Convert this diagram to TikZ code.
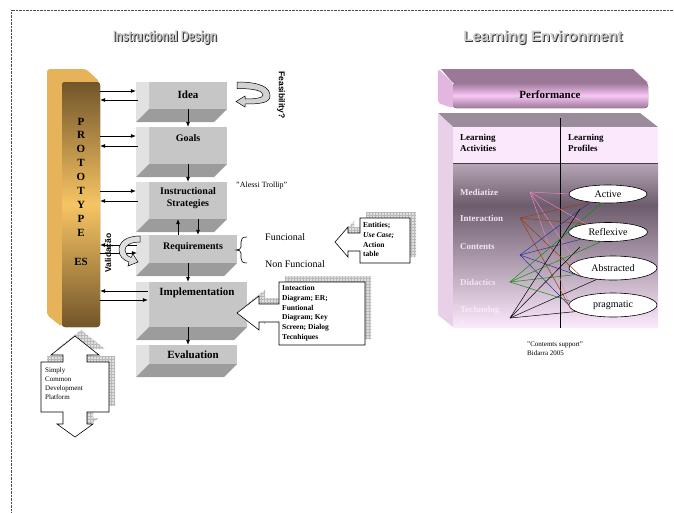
\documentclass[tikz,border=0pt]{standalone}
\usepackage{fontspec}
\setmainfont{Liberation Serif}
\newfontfamily\titlefont{Liberation Sans}
\usetikzlibrary{arrows.meta,shapes.geometric,fit,patterns}
\definecolor{boxlight}{HTML}{C6C6C6}
\definecolor{boxleft}{HTML}{E2E2E2}
\definecolor{boxdark}{HTML}{9C9C9C}
\definecolor{goldlight}{HTML}{E6B25A}
\definecolor{golddark}{HTML}{72552A}
\definecolor{goldmid}{HTML}{F6C463}
\definecolor{mauve}{HTML}{9C7898}
\definecolor{pinkl}{HTML}{F8C6F6}
\definecolor{pinkleft}{HTML}{E2B6E0}
\definecolor{tabtop}{HTML}{9A8C9A}
\definecolor{tableft}{HTML}{E8D0E8}
\definecolor{tabhead}{HTML}{FCE8FC}
\definecolor{tabdark}{HTML}{6C5C6C}
\definecolor{tabmid}{HTML}{B6A6B6}
\definecolor{actcol}{HTML}{F2E4F2}
\definecolor{lpink}{HTML}{F080C0}
\definecolor{lbrown}{HTML}{A03C10}
\definecolor{lblue}{HTML}{3030A0}
\definecolor{lgreen}{HTML}{109010}
\newcommand\tdbox[5]{%
  \fill[boxlight] (#2+13,#3) rectangle (#4,#5);
  \fill[boxleft] (#2,#3) -- (#2+13,#3) -- (#2+13,#5) -- (#2,#5+13) -- cycle;
  \fill[boxdark] (#2+13,#5) -- (#4,#5) -- (#4-13,#5+13) -- (#2,#5+13) -- cycle;
  \node[fit={(#2,#3) (#4,#5)}, inner sep=0pt] (#1) {};
}
\begin{document}
\begin{tikzpicture}[x=1pt,y=-1pt,
  arr/.style={-{Latex[length=5pt,width=4pt]}, line width=0.6pt},
  lbl/.style={font=\bfseries\fontsize{10}{11}\selectfont, inner sep=0pt},
  lblb/.style={font=\bfseries\fontsize{11}{12}\selectfont, inner sep=0pt},
  callt/.style={font=\bfseries\fontsize{7.5}{9.8}\selectfont, align=left, inner sep=0pt, anchor=north west},
  shad/.style={fill=gray!25},
  shadpat/.style={pattern=grid, pattern color=gray!55},
  callout/.style={fill=white, draw=black, line width=0.6pt},
  act/.style={font=\bfseries\fontsize{9}{10}\selectfont, text=actcol, anchor=west, inner sep=0pt},
  prof/.style={ellipse, draw, fill=white, line width=0.6pt, inner sep=0pt, font=\fontsize{10}{11}\selectfont},
  lnk/.style={line width=0.5pt}]
\useasboundingbox (0,0) rectangle (674,512);
% border
\draw[densely dotted, gray!60!black, line width=0.4pt] (11,512) -- (11,10) -- (674,10);
% titles
\node at (166,39) {\titlefont\bfseries\fontsize{15}{15}\selectfont\color{black!80}\scalebox{0.72}[1]{Instructional Design}};
\node (title1) at (165,38) {\titlefont\bfseries\fontsize{15}{15}\selectfont\color{gray!45}\scalebox{0.72}[1]{Instructional Design}};
\node at (544,39) {\titlefont\bfseries\fontsize{15}{15}\selectfont\color{black!80}Learning Environment};
\node (title2) at (543,38) {\titlefont\bfseries\fontsize{15}{15}\selectfont\color{gray!40}Learning Environment};
% pillar
\fill[goldlight, rounded corners=3pt] (47,69) -- (86,69) -- (100,82) -- (62,82) -- (62,327) -- (47,315) -- cycle;
\fill[top color=golddark, bottom color=golddark, middle color=goldmid, rounded corners=3pt] (62,82) rectangle (100,327);
\node[fit={(62,82) (100,327)}, inner sep=0pt] (pillar) {};
\node[font=\bfseries\fontsize{11}{13.9}\selectfont, align=center, inner sep=0pt] (proto) at (81,177) {P\\R\\O\\T\\O\\T\\Y\\P\\E};
\node[font=\bfseries\fontsize{11}{12}\selectfont, inner sep=0pt] (es) at (81,262) {ES};
% boxes
\tdbox{idea}{136}{82}{227}{109}
\tdbox{goals}{136}{127}{227}{164}
\tdbox{ist}{136}{182}{227}{219}
\tdbox{req}{136}{235}{237}{263}
\tdbox{impl}{136}{282}{247}{327}
\tdbox{eval}{136}{345}{237}{364}
\node[lblb] (ideat) at (188,95) {Idea};
\node[lbl] (goalst) at (188,138) {Goals};
\node[lbl, align=center, font=\bfseries\fontsize{10}{12}\selectfont] (istt) at (188,198) {Instructional\\Strategies};
\node[lbl] (reqt) at (193,247) {Requirements};
\node[lblb] (implt) at (197,293) {Implementation};
\node[lblb] (evalt) at (193,355) {Evaluation};
% vertical arrows
\draw[arr] (idea.south -| ideat) -- (goals.north -| ideat);
\draw[arr] (goals.south -| ideat) -- (ist.north -| ideat);
\draw[arr] (req.north -| 178,0) -- (ist.south -| 178,0);
\draw[arr] (ist.south -| 198,0) -- (req.north -| 198,0);
\draw[arr] (req.south -| ideat) -- (impl.north -| ideat);
\draw[arr] (impl.south -| ideat) -- (eval.north -| ideat);
% pillar arrows
\draw[arr] (pillar.east |- 0,91) -- (idea.west |- 0,91);
\draw[arr] ([xshift=2pt]idea.west |- 0,100) -- (pillar.east |- 0,100);
\draw[arr] (pillar.east |- 0,136) -- (goals.west |- 0,136);
\draw[arr] ([xshift=2pt]goals.west |- 0,146) -- (pillar.east |- 0,146);
\draw[arr] (pillar.east |- 0,191) -- (ist.west |- 0,191);
\draw[arr] ([xshift=2pt]ist.west |- 0,201) -- (pillar.east |- 0,201);
\draw[arr] ([xshift=1pt]req.west |- 0,245) -- (pillar.east |- 0,245);
\draw[arr] (pillar.east |- 0,253) -- ([xshift=1pt]req.west |- 0,253);
\draw[arr] ([xshift=12pt]impl.west |- 0,291) -- (pillar.east |- 0,291);
\draw[arr] (pillar.east |- 0,300) -- ([xshift=12pt]impl.west |- 0,300);
% feasibility curved arrow
\filldraw[fill=gray!35, draw=black, line width=0.5pt]
  (237,82) .. controls (262,82) and (270,88) .. (270,96) .. controls (270,103) and (260,104) .. (245,104)
  -- (245,107) -- (236,101.5) -- (245,96) -- (245,99) .. controls (255,99) and (263,98) .. (263,95)
  .. controls (263,91) and (255,88.5) .. (237,88.5) -- cycle;
\node[rotate=-90, font=\titlefont\bfseries\fontsize{8.5}{8.5}\selectfont, inner sep=0pt] (feas) at (281,95) {Feasibility?};
% validation curved arrow
\filldraw[fill=gray!25, draw=black, line width=0.5pt]
  (140,236) .. controls (126,236) and (119,242) .. (119,250) .. controls (119,256) and (123,260) .. (129,262)
  -- (128,266) -- (138,262) -- (133,254) -- (131,257.5) .. controls (127,256) and (125,253) .. (125,250)
  .. controls (125,246) and (130,242) .. (140,242) -- cycle;
\node[rotate=90, font=\titlefont\bfseries\fontsize{8.5}{8.5}\selectfont, inner sep=0pt] (valid) at (109,253) {Validação};
% Alessi
\node[font=\fontsize{8}{9}\selectfont, anchor=west, inner sep=0pt] (alessi) at (236,186) {"Alessi Trollip"};
% brace
\draw[line width=0.6pt] (247,237) .. controls (242,237) and (241,239) .. (241,242) -- (241,247)
  .. controls (241,249) and (239,250) .. (236,250) .. controls (239,250) and (241,251) .. (241,253)
  -- (241,258) .. controls (241,261) and (242,263) .. (247,263);
\node[font=\fontsize{10}{11}\selectfont, anchor=west, inner sep=0pt] (func) at (265,237) {Funcional};
\node[font=\fontsize{10}{11}\selectfont, anchor=west, inner sep=0pt] (nfunc) at (265,264) {Non Funcional};
% Entities callout
\begin{scope}[shift={(6,-6)}]
\fill[shad] (360,218) -- (410,218) -- (410,263) -- (360,263) -- (360,251) -- (348,251) -- (348,257) -- (335,242) -- (348,227) -- (348,233) -- (360,233) -- cycle;
\fill[shadpat] (360,218) -- (410,218) -- (410,263) -- (360,263) -- (360,251) -- (348,251) -- (348,257) -- (335,242) -- (348,227) -- (348,233) -- (360,233) -- cycle;
\end{scope}
\filldraw[callout] (360,218) -- (410,218) -- (410,263) -- (360,263) -- (360,251) -- (348,251) -- (348,257) -- (335,242) -- (348,227) -- (348,233) -- (360,233) -- cycle;
\node[callt] (entt) at (363,222) {Entities;\\\textit{Use Case;}\\Action\\table};
% Implementation callout
\begin{scope}[shift={(6,-6)}]
\fill[shad] (279,282) -- (365,282) -- (365,345) -- (279,345) -- (279,322) -- (259,322) -- (259,330) -- (237,313) -- (259,296) -- (259,304) -- (279,304) -- cycle;
\fill[shadpat] (279,282) -- (365,282) -- (365,345) -- (279,345) -- (279,322) -- (259,322) -- (259,330) -- (237,313) -- (259,296) -- (259,304) -- (279,304) -- cycle;
\end{scope}
\filldraw[callout] (279,282) -- (365,282) -- (365,345) -- (279,345) -- (279,322) -- (259,322) -- (259,330) -- (237,313) -- (259,296) -- (259,304) -- (279,304) -- cycle;
\node[callt] (implc) at (282,285) {Inteaction\\Diagram; ER;\\Funtional\\Diagram; Key\\Screen; Dialog\\Tecnhiques};
% Simply common platform
\begin{scope}[shift={(6,-6)}]
\fill[shad] (75,336) -- (99,355) -- (87,355) -- (87,362) -- (109,362) -- (109,412) -- (87,412) -- (87,424) -- (93,424) -- (75,437) -- (57,424) -- (63,424) -- (63,412) -- (41,412) -- (41,362) -- (63,362) -- (63,355) -- (51,355) -- cycle;
\fill[shadpat] (75,336) -- (99,355) -- (87,355) -- (87,362) -- (109,362) -- (109,412) -- (87,412) -- (87,424) -- (93,424) -- (75,437) -- (57,424) -- (63,424) -- (63,412) -- (41,412) -- (41,362) -- (63,362) -- (63,355) -- (51,355) -- cycle;
\end{scope}
\filldraw[callout] (75,336) -- (99,355) -- (87,355) -- (87,362) -- (109,362) -- (109,412) -- (87,412) -- (87,424) -- (93,424) -- (75,437) -- (57,424) -- (63,424) -- (63,412) -- (41,412) -- (41,362) -- (63,362) -- (63,355) -- (51,355) -- cycle;
\node[font=\fontsize{7}{9}\selectfont, align=left, inner sep=0pt, anchor=north west] (scdp) at (45,367) {Simply\\Common\\Development\\Platform};
% Performance bar
\fill[mauve] (441,69) -- (633,69) -- (648,83) -- (453,83) -- cycle;
\fill[pinkleft, rounded corners=2pt] (438,69) -- (453,83) -- (453,108) -- (438,103) -- cycle;
\fill[top color=mauve, bottom color=mauve, middle color=pinkl, rounded corners=3pt] (453,83) rectangle (648,108);
\node[font=\bfseries\fontsize{11}{12}\selectfont, inner sep=0pt] (perf) at (550,95) {Performance};
% table
\fill[tabtop] (438,113) -- (640,113) -- (658,127) -- (453,127) -- cycle;
\fill[tableft] (438,113) -- (453,127) -- (453,327) -- (438,315) -- cycle;
\fill[tabhead] (453,127) rectangle (658,163);
\fill[top color=tabmid, bottom color=tabdark] (453,163) rectangle (658,205);
\fill[top color=tabdark, bottom color=tabhead] (453,205) rectangle (658,327);
\draw[line width=0.7pt, black!75] (453,163) -- (658,163);
\draw[line width=0.6pt] (560,118) -- (560,328);
\node[font=\bfseries\fontsize{9}{10.5}\selectfont, align=left, inner sep=0pt, anchor=west] (lact) at (460,143) {Learning\\Activities};
\node[font=\bfseries\fontsize{9}{10.5}\selectfont, align=left, inner sep=0pt, anchor=west] (lprof) at (568,143) {Learning\\Profiles};
\node[act] (med) at (460,192) {Mediatize};
\node[act] (inter) at (460,218) {Interaction};
\node[act] (cont) at (460,247) {Contents};
\node[act] (did) at (460,282) {Didactics};
\node[act, align=left, font=\bfseries\fontsize{9}{12}\selectfont, text=actcol!70!white] (tech) at (460,316) {Technolog\\y};
\coordinate (mP) at (530,192);
\coordinate (iP) at (520,218);
\coordinate (cP) at (520,255);
\coordinate (dP) at (510,282);
\coordinate (tP) at (510,318);
\node[prof, minimum width=78, minimum height=18] (active) at (608,194) {Active};
\node[prof, minimum width=79, minimum height=19] (reflex) at (608,232) {Reflexive};
\node[prof, minimum width=88, minimum height=24] (abstr) at (613,268) {Abstracted};
\node[prof, minimum width=88, minimum height=24] (prag) at (613,305) {pragmatic};
\coordinate (tA) at (580,209);
\coordinate (tR) at (580,247);
% links
\draw[lnk, lpink] (mP) -- (active.180);
\draw[lnk, lpink] (mP) -- (reflex.160);
\draw[lnk, lpink] (mP) -- (abstr.170);
\draw[lnk, lpink] (mP) -- (prag.185);
\draw[lnk, lbrown] (iP) -- (active.205);
\draw[lnk, lbrown] (iP) -- (reflex.160);
\draw[lnk, lbrown] (iP) -- (abstr.195);
\draw[lnk, lbrown] (iP) -- (prag.185);
\draw[lnk, lblue] (cP) -- (active.205);
\draw[lnk, lblue] (cP) -- (reflex.195);
\draw[lnk, lblue] (cP) -- (abstr.195);
\draw[lnk, lblue] (cP) -- (prag.180);
\draw[lnk, lgreen] (dP) -- (active.235);
\draw[lnk, lgreen] (dP) -- (reflex.235);
\draw[lnk, lgreen] (dP) -- (abstr.190);
\draw[lnk, lgreen] (dP) -- (prag.175);
\draw[lnk, black] (tP) -- (tA);
\draw[lnk, black] (tP) -- (tR);
\draw[lnk, black] (tP) -- (abstr.215);
\draw[lnk, black] (tP) -- (prag.190);
% source
\node[font=\fontsize{7}{9}\selectfont, align=left, inner sep=0pt, anchor=north west] (src) at (527,342) {"Contemts support"\\Bidarra 2005};
\end{tikzpicture}
\end{document}
